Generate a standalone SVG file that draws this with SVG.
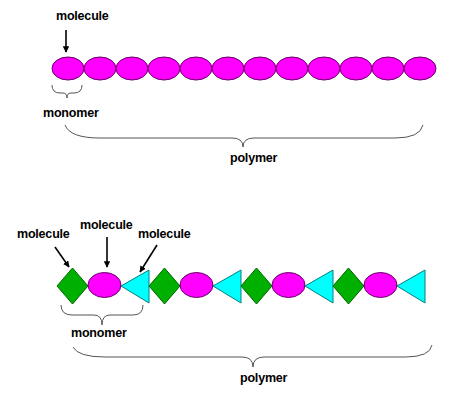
<svg xmlns="http://www.w3.org/2000/svg" width="450" height="412" viewBox="0 0 450 412">
<defs>
<style>
.t{font-family:"Liberation Sans",Arial,sans-serif;font-weight:bold;font-size:12.5px;fill:#000;letter-spacing:-0.2px}
.ell{fill:#FF00FF;stroke:#660066;stroke-width:1}
.dia{fill:#00B000;stroke:#006600;stroke-width:1}
.tri{fill:#00FFFF;stroke:#008080;stroke-width:1}
.br{fill:none;stroke:#555;stroke-width:1}
.ar{stroke:#000;stroke-width:1.6;fill:none;marker-end:url(#ah)}
</style>
<marker id="ah" viewBox="0 0 10 10" refX="9" refY="5" markerWidth="4" markerHeight="4" orient="auto" markerUnits="strokeWidth">
<path d="M0,0 L10,5 L0,10 z" fill="#000"/>
</marker>
</defs>
<rect width="450" height="412" fill="#fff"/>
<g id="chain1">
<ellipse class="ell" cx="68" cy="68.5" rx="16" ry="11.5"/>
<ellipse class="ell" cx="100" cy="68.5" rx="16" ry="11.5"/>
<ellipse class="ell" cx="132" cy="68.5" rx="16" ry="11.5"/>
<ellipse class="ell" cx="164" cy="68.5" rx="16" ry="11.5"/>
<ellipse class="ell" cx="196" cy="68.5" rx="16" ry="11.5"/>
<ellipse class="ell" cx="228" cy="68.5" rx="16" ry="11.5"/>
<ellipse class="ell" cx="260" cy="68.5" rx="16" ry="11.5"/>
<ellipse class="ell" cx="292" cy="68.5" rx="16" ry="11.5"/>
<ellipse class="ell" cx="324" cy="68.5" rx="16" ry="11.5"/>
<ellipse class="ell" cx="356" cy="68.5" rx="16" ry="11.5"/>
<ellipse class="ell" cx="388" cy="68.5" rx="16" ry="11.5"/>
<ellipse class="ell" cx="420" cy="68.5" rx="16" ry="11.5"/>
</g>
<g id="chain2">
<polygon class="dia" points="72.5,268 88,286 72.5,304 57,286"/>
<ellipse class="ell" cx="104.5" cy="285" rx="16.5" ry="12.5"/>
<polygon class="tri" points="121,286 149,270 149,303"/>
<polygon class="dia" points="164.5,268 180,286 164.5,304 149,286"/>
<ellipse class="ell" cx="196.5" cy="285" rx="16.5" ry="12.5"/>
<polygon class="tri" points="213,286 241,270 241,303"/>
<polygon class="dia" points="256.5,268 272,286 256.5,304 241,286"/>
<ellipse class="ell" cx="288.5" cy="285" rx="16.5" ry="12.5"/>
<polygon class="tri" points="305,286 333,270 333,303"/>
<polygon class="dia" points="348.5,268 364,286 348.5,304 333,286"/>
<ellipse class="ell" cx="380.5" cy="285" rx="16.5" ry="12.5"/>
<polygon class="tri" points="397,286 425,270 425,303"/>
</g>
<g id="connectors">
<line class="ar" x1="66" y1="30" x2="66" y2="52"/>
<line class="ar" x1="55" y1="247" x2="69" y2="267"/>
<line class="ar" x1="107" y1="237" x2="107" y2="267"/>
<line class="ar" x1="157" y1="245" x2="140" y2="272"/>
<path class="br" d="M52,85 Q52,93 60,93 L63,93 Q67,93 67,98 Q67,93 71,93 L74,93 Q82,93 82,85"/>
<path class="br" d="M65,125 Q70,138 100,138 L232,138 Q243,138 243,147 Q243,138 254,138 L395,138 Q420,138 423,125"/>
<path class="br" d="M61,305 Q61,315 72,315 L94,315 Q102,315 102,325 Q102,315 110,315 L133,315 Q143,315 143,305"/>
<path class="br" d="M73,347 Q78,357 105,357 L242,357 Q253,357 253,367 Q253,357 264,357 L405,357 Q430,357 432,345"/>
</g>
<g id="labels">
<text class="t" x="56" y="20">molecule</text>
<text class="t" x="43" y="117">monomer</text>
<text class="t" x="230" y="162">polymer</text>
<text class="t" x="17" y="238">molecule</text>
<text class="t" x="80" y="229">molecule</text>
<text class="t" x="138" y="238">molecule</text>
<text class="t" x="71" y="337">monomer</text>
<text class="t" x="240" y="382">polymer</text>
</g>
</svg>
